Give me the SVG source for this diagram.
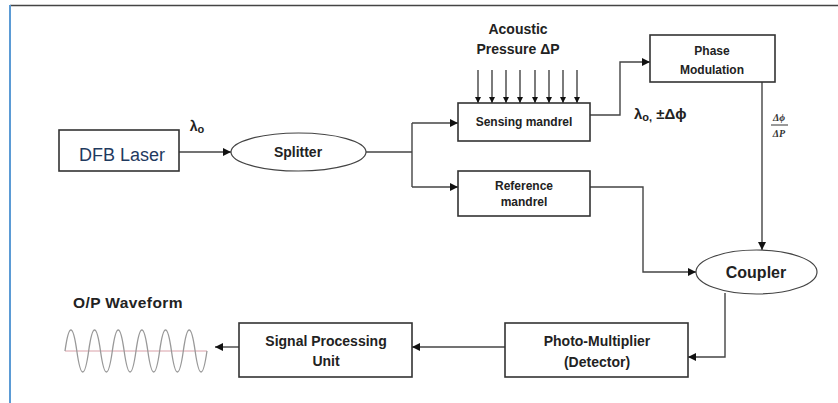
<svg xmlns="http://www.w3.org/2000/svg" width="838" height="403" viewBox="0 0 838 403">
<style>
.box{fill:#fff;stroke:#333;stroke-width:1.6}
.ell{fill:#fff;stroke:#444;stroke-width:1.2}
.ln{fill:none;stroke:#444;stroke-width:1.4}
.t{font-family:"Liberation Sans",Arial,sans-serif;font-weight:bold;fill:#222;text-anchor:middle}
.ts{text-anchor:start}
</style>
<defs>
<marker id="ah" viewBox="0 0 10 10" refX="10" refY="5" markerWidth="8" markerHeight="8" markerUnits="userSpaceOnUse" orient="auto">
<path d="M0,0 L10,5 L0,10 z" fill="#111"/>
</marker>
<marker id="ahs" viewBox="0 0 10 10" refX="10" refY="5" markerWidth="6" markerHeight="6" markerUnits="userSpaceOnUse" orient="auto">
<path d="M0,0 L10,5 L0,10 z" fill="#111"/>
</marker>
</defs>
<rect width="838" height="403" fill="#fff"/>
<line x1="10" y1="5.5" x2="838" y2="5.5" stroke="#444" stroke-width="1.5"/>
<line x1="10" y1="5" x2="10" y2="403" stroke="#5b9bd5" stroke-width="2"/>

<g id="connectors">
<line class="ln" x1="179" y1="152" x2="231" y2="152" marker-end="url(#ah)"/>
<path class="ln" d="M366,152 H412"/>
<path class="ln" d="M412,123 V187"/>
<line class="ln" x1="412" y1="123" x2="458" y2="123" marker-end="url(#ah)"/>
<line class="ln" x1="412" y1="187" x2="458" y2="187" marker-end="url(#ah)"/>
<path class="ln" d="M590,115 H620 V62 H650" marker-end="url(#ah)"/>
<path class="ln" d="M762,82 V250" marker-end="url(#ah)"/>
<path class="ln" d="M590,187 H643 V272 H696" marker-end="url(#ah)"/>
<path class="ln" d="M725,293 V357 H688" marker-end="url(#ah)"/>
<line class="ln" x1="505" y1="347" x2="412" y2="347" marker-end="url(#ah)"/>
<line class="ln" x1="239" y1="347" x2="215" y2="347" marker-end="url(#ah)"/>
<g id="pressure-arrows">
<line class="ln" x1="478" y1="70" x2="478" y2="103" marker-end="url(#ahs)"/>
<line class="ln" x1="492" y1="70" x2="492" y2="103" marker-end="url(#ahs)"/>
<line class="ln" x1="506" y1="70" x2="506" y2="103" marker-end="url(#ahs)"/>
<line class="ln" x1="520" y1="70" x2="520" y2="103" marker-end="url(#ahs)"/>
<line class="ln" x1="535" y1="70" x2="535" y2="103" marker-end="url(#ahs)"/>
<line class="ln" x1="549" y1="70" x2="549" y2="103" marker-end="url(#ahs)"/>
<line class="ln" x1="563" y1="70" x2="563" y2="103" marker-end="url(#ahs)"/>
<line class="ln" x1="577" y1="70" x2="577" y2="103" marker-end="url(#ahs)"/>
</g>
</g>

<g id="dfb-laser">
<rect class="box" x="59" y="130" width="120" height="41"/>
<text x="122" y="161" font-family="'Liberation Sans',Arial,sans-serif" font-size="18" fill="#1f3a5f" text-anchor="middle">DFB Laser</text>
</g>
<text class="t" x="197" y="131" font-size="14">λ<tspan font-size="11" dy="2">o</tspan></text>

<g id="splitter">
<ellipse class="ell" cx="298.5" cy="152" rx="67.5" ry="19"/>
<text class="t" x="298" y="157" font-size="14">Splitter</text>
</g>

<g id="acoustic-label">
<text class="t" x="518" y="34" font-size="14">Acoustic</text>
<text class="t" x="518" y="54" font-size="14">Pressure ΔP</text>
</g>

<g id="sensing-mandrel">
<rect class="box" x="458" y="103" width="132" height="38"/>
<text class="t" x="524" y="126" font-size="12">Sensing mandrel</text>
</g>

<g id="reference-mandrel">
<rect class="box" x="458" y="171" width="132" height="45"/>
<text class="t" x="524" y="190" font-size="12">Reference</text>
<text class="t" x="524" y="206" font-size="12">mandrel</text>
</g>

<g id="phase-modulation">
<rect class="box" x="650" y="35" width="125" height="47"/>
<text class="t" x="712" y="55" font-size="12">Phase</text>
<text class="t" x="712" y="74" font-size="12">Modulation</text>
</g>

<text class="t ts" x="634" y="119" font-size="15">λ<tspan font-size="11" dy="2">o,</tspan><tspan dy="-2"> ±Δϕ</tspan></text>

<g id="fraction">
<text x="779" y="121" font-family="'Liberation Serif',serif" font-style="italic" font-weight="bold" font-size="10" fill="#333" text-anchor="middle">Δϕ</text>
<line x1="771" y1="125" x2="788" y2="125" stroke="#333" stroke-width="1"/>
<text x="779" y="137" font-family="'Liberation Serif',serif" font-style="italic" font-weight="bold" font-size="10" fill="#333" text-anchor="middle">ΔP</text>
</g>

<g id="coupler">
<ellipse class="ell" cx="756.5" cy="272" rx="60.5" ry="22"/>
<text class="t" x="756" y="278" font-size="16">Coupler</text>
</g>

<g id="photo-multiplier">
<rect class="box" x="505" y="323" width="183" height="54"/>
<text class="t" x="597" y="346" font-size="14">Photo-Multiplier</text>
<text class="t" x="597" y="367" font-size="14">(Detector)</text>
</g>

<g id="signal-processing">
<rect class="box" x="239" y="323" width="173" height="54"/>
<text class="t" x="326" y="346" font-size="14">Signal Processing</text>
<text class="t" x="326" y="366" font-size="14">Unit</text>
</g>

<g id="waveform">
<text class="t ts" x="73" y="308" font-size="15.5" letter-spacing="0.4">O/P Waveform</text>
<line x1="65" y1="351" x2="207" y2="351" stroke="#d9a0a8" stroke-width="1"/>
<path d="M65,351 q5.9,-42 11.83,0 t11.83,0 t11.83,0 t11.83,0 t11.83,0 t11.83,0 t11.83,0 t11.83,0 t11.83,0 t11.83,0 t11.83,0 t11.83,0" fill="none" stroke="#999" stroke-width="1.3"/>
</g>
</svg>
